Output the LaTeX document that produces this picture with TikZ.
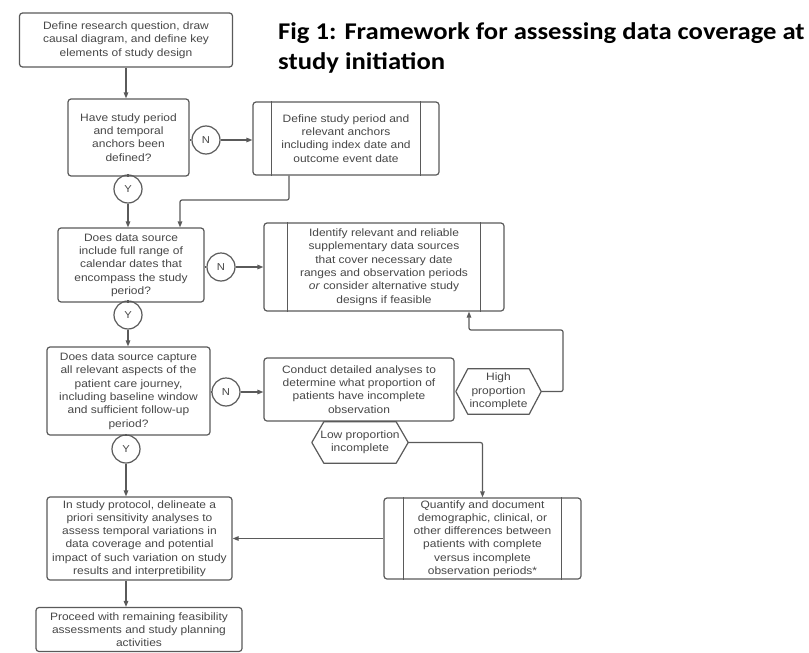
\documentclass[tikz,border=0pt]{standalone}
\usepackage{fontspec}
\setmainfont{Liberation Sans}[FakeStretch=1.12]
\newfontfamily\titlefont{Carlito}[FakeStretch=1.11]
\usetikzlibrary{arrows.meta}
\definecolor{lnc}{HTML}{5A5A5A}
\definecolor{txc}{HTML}{474747}
\begin{document}
\begin{tikzpicture}[x=1pt,y=-1pt,
  box/.style={draw=lnc, line width=1.2pt, rounded corners=3pt, align=center, text=txc,
    font=\fontsize{10.7}{13.3}\selectfont, inner sep=0pt},
  hexnode/.style={align=center, text=txc, font=\fontsize{10.7}{13.3}\selectfont, inner sep=0pt},
  circ/.style={circle, draw=lnc, line width=1.2pt, minimum size=28pt, inner sep=0pt, text=txc,
    font=\fontsize{10}{12}\selectfont},
  conn/.style={draw=lnc, line width=1.2pt, rounded corners=2pt},
  arr/.style={conn, -{Triangle[length=6pt,width=4.5pt]}}]
\useasboundingbox (0,0) rectangle (809,653);
\fill[white] (0,0) rectangle (809,653);

\node[anchor=north west, align=left, inner sep=0pt,
  font=\titlefont\bfseries\fontsize{24}{30}\selectfont] (title) at (278,22)
  {Fig 1: Framework for assessing data coverage at\\study initiation};

\node[box, minimum width=213pt, minimum height=54pt] (b1) at (126,40)
  {Define research question, draw\\causal diagram, and define key\\elements of study design};
\node[box, minimum width=121pt, minimum height=77pt] (d1) at (128.5,137.5)
  {Have study period\\and temporal\\anchors been\\defined?};
\node[circ] (n1) at (206,140) {N};
\node[box, minimum width=186pt, minimum height=73pt] (p1) at (346,138.5)
  {Define study period and\\relevant anchors\\including index date and\\outcome event date};
\node[circ] (y1) at (128,189) {Y};
\node[box, minimum width=146pt, minimum height=74pt] (d2) at (131,265)
  {Does data source\\include full range of\\calendar dates that\\encompass the study\\period?};
\node[circ] (n2) at (221,267) {N};
\node[box, minimum width=240pt, minimum height=88pt] (p2) at (384,267)
  {Identify relevant and reliable\\supplementary data sources\\that cover necessary date\\ranges and observation periods\\\textit{or} consider alternative study\\designs if feasible};
\node[circ] (y2) at (128,315) {Y};
\node[box, minimum width=163pt, minimum height=88pt] (d3) at (128.5,391)
  {Does data source capture\\all relevant aspects of the\\patient care journey,\\including baseline window\\and sufficient follow-up\\period?};
\node[circ] (n3) at (226,392) {N};
\node[box, minimum width=190pt, minimum height=63pt] (c1) at (359,389.5)
  {Conduct detailed analyses to\\determine what proportion of\\patients have incomplete\\observation};
\node[hexnode, minimum width=85pt, minimum height=45pt] (hi) at (498.5,391.5)
  {High\\proportion\\incomplete};
\node[hexnode, minimum width=96pt, minimum height=41pt] (lo) at (360,442.5)
  {Low proportion\\incomplete};
\node[circ] (y3) at (126,449) {Y};
\node[box, minimum width=197pt, minimum height=81pt] (q1) at (482.5,538.5)
  {Quantify and document\\demographic, clinical, or\\other differences between\\patients with complete\\versus incomplete\\observation periods*};
\node[box, minimum width=185pt, minimum height=83pt] (pr) at (139.5,538.5)
  {In study protocol, delineate a\\priori sensitivity analyses to\\assess temporal variations in\\data coverage and potential\\impact of such variation on study\\results and interpretibility};
\node[box, minimum width=206pt, minimum height=44pt] (fin) at (139,629.5)
  {Proceed with remaining feasibility\\assessments and study planning\\activities};

% predefined-process side bars
\foreach \n/\o in {p1/19, p2/24, q1/20}{
  \draw[draw=lnc, line width=1.2pt] ([xshift=\o pt]\n.north west) -- ([xshift=\o pt]\n.south west);
  \draw[draw=lnc, line width=1.2pt] ([xshift=-\o pt]\n.north east) -- ([xshift=-\o pt]\n.south east);
}
% hexagons
\foreach \n in {hi, lo}{
  \draw[draw=lnc, line width=1.2pt, line join=round]
    (\n.west) -- ([xshift=12pt]\n.north west) -- ([xshift=-12pt]\n.north east) -- (\n.east)
    -- ([xshift=-12pt]\n.south east) -- ([xshift=12pt]\n.south west) -- cycle;
}

% connectors
\draw[arr] (b1.south) -- (b1.south |- d1.north);
\draw[conn] (n1.west -| d1.east) -- (n1.west);
\draw[arr] (n1.east) -- (n1.east -| p1.west);
\draw[conn] (d1.south -| y1) -- (y1.north);
\draw[arr] (y1.south) -- (y1.south |- d2.north);
\coordinate (k1) at (289,200);
\coordinate (k2) at (180,200);
\draw[arr] (k1 |- p1.south) -- (k1) -- (k2) -- (k2 |- d2.north);
\draw[conn] (n2.west -| d2.east) -- (n2.west);
\draw[arr] (n2.east) -- (n2.east -| p2.west);
\draw[conn] (d2.south -| y2) -- (y2.north);
\draw[arr] (y2.south) -- (y2.south |- d3.north);
\draw[conn] (n3.west -| d3.east) -- (n3.west);
\draw[arr] (n3.east) -- (n3.east -| c1.west);
\draw[conn] (d3.south -| y3) -- (y3.north);
\draw[arr] (y3.south) -- (y3.south |- pr.north);
\coordinate (h2) at (563,330);
\coordinate (h3) at (469,330);
\draw[arr] (hi.east) -| (h2) -- (h3) -- (h3 |- p2.south);
\draw[arr] (lo.east) -| (q1.north);
\draw[arr] (q1.west) -- (q1.west -| pr.east);
\draw[arr] (y3 |- pr.south) -- (y3 |- fin.north);
\end{tikzpicture}
\end{document}
